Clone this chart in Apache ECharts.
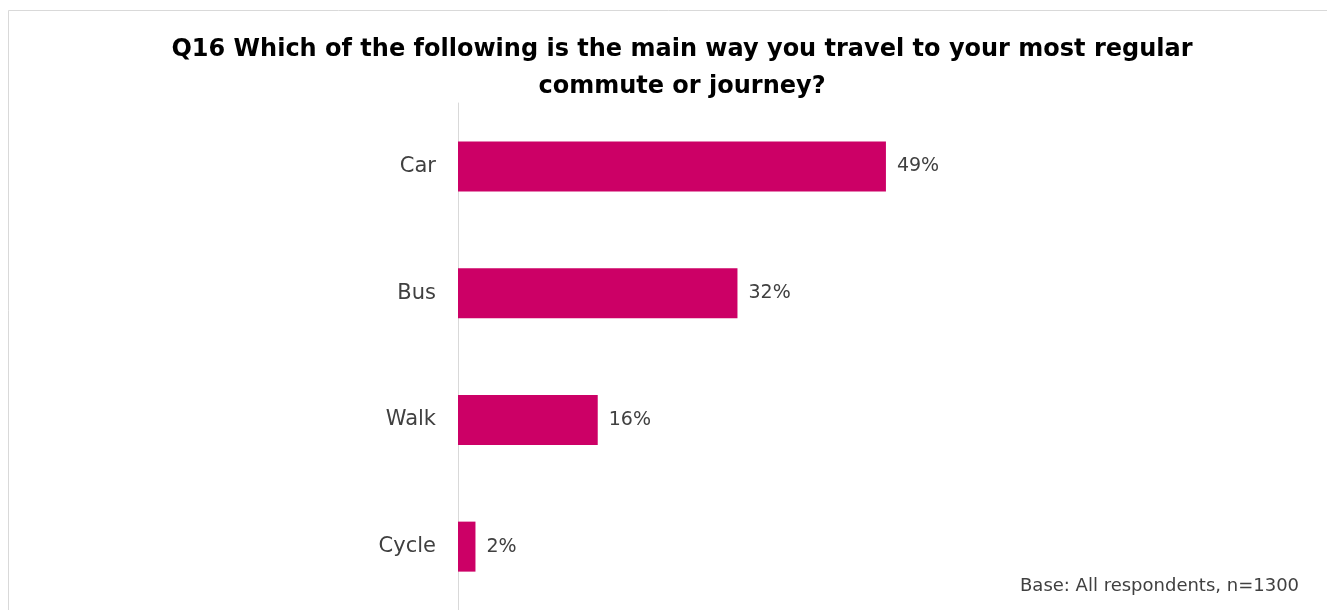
<!DOCTYPE html>
<html>
<head>
<meta charset="utf-8">
<script src="https://cdn.jsdelivr.net/npm/echarts@6/dist/echarts.min.js"></script>
<style>
html,body{margin:0;padding:0;background:#fff;}
#chart{width:1327px;height:610px;}
</style>
</head>
<body>
<div id="chart"></div>
<script>
var categories = ["Car", "Bus", "Walk", "Cycle"];
var values = [49, 32, 16, 2];
var titleText = "Q16 Which of the following is the main way you travel to your most regular\ncommute or journey?";
var baseNote = "Base: All respondents, n=1300";

var FONT = '"DejaVu Sans", Verdana, sans-serif';
var chart = echarts.init(document.getElementById('chart'), null, {renderer: 'canvas'});
chart.setOption({
  animation: false,
  backgroundColor: '#ffffff',
  graphic: [
    {type: 'rect', shape: {x: 8.5, y: 10.5, width: 1400, height: 700}, style: {fill: 'none', stroke: '#d9d9d9', lineWidth: 1}, z: 0},
    {type: 'text', left: 1020, top: 577, style: {text: baseNote, font: '18px ' + FONT, fill: '#404040'}}
  ],
  title: {
    text: titleText,
    left: 677,
    top: 26,
    textAlign: 'center',
    textStyle: {fontFamily: FONT, fontWeight: 'bold', fontSize: 24, color: '#000000', lineHeight: 37}
  },
  grid: {left: 458, top: 103, width: 524, bottom: 0, containLabel: false},
  xAxis: {type: 'value', min: 0, max: 60, show: false},
  yAxis: {
    type: 'category',
    data: categories,
    inverse: true,
    axisLine: {show: true, lineStyle: {color: '#d9d9d9', width: 1}},
    axisTick: {show: false},
    axisLabel: {margin: 22, fontSize: 21, color: '#404040', fontFamily: FONT}
  },
  series: [{
    type: 'bar',
    data: values,
    barWidth: 50,
    itemStyle: {color: '#CC0066'},
    label: {show: true, position: 'right', distance: 11, formatter: '{c}%', fontSize: 19, color: '#404040', fontFamily: FONT}
  }]
});
</script>
</body>
</html>
